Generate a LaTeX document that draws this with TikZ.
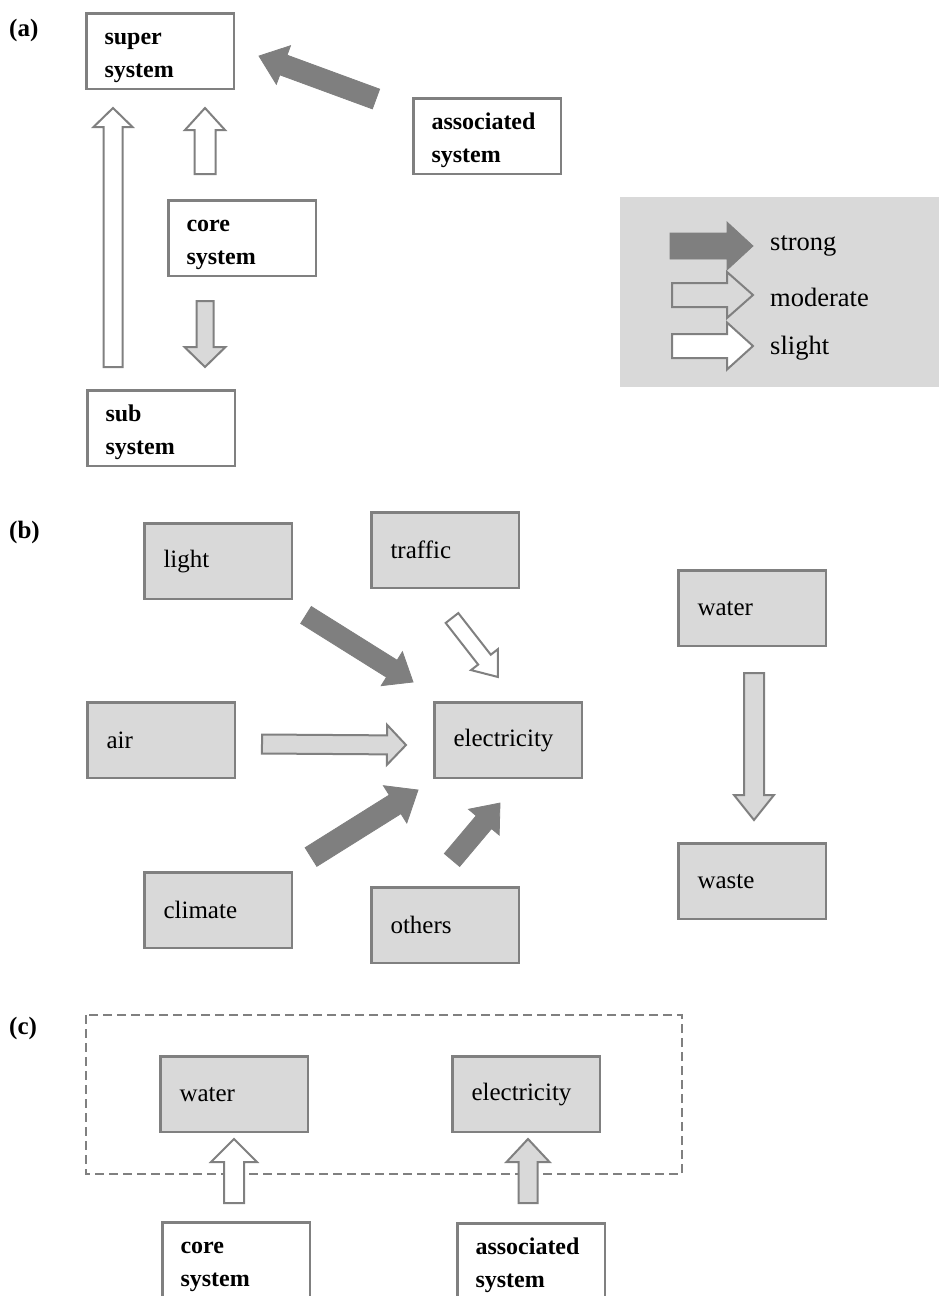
\documentclass[tikz,border=0pt]{standalone}
\usepackage{fontspec}
\setmainfont{Liberation Serif}
\usetikzlibrary{calc}

\definecolor{edgegray}{HTML}{808080}
\definecolor{boxgray}{HTML}{D9D9D9}
\definecolor{stronggray}{HTML}{7F7F7F}

\newcommand{\sysfont}{\fontsize{24}{33}\selectfont\bfseries}
\newcommand{\itemfont}{\fontsize{25}{30}\selectfont}
\newcommand{\keyfont}{\fontsize{26.5}{30}\selectfont}
\newcommand{\panelfont}{\fontsize{25}{30}\selectfont\bfseries}
% extra room above the first line of a two-line label
\newcommand{\toppad}{\rule{0pt}{25pt}}

% Block arrow from #2 (tail centre) to #3 (tip):
% #4 shaft half-width, #5 head half-width, #6 head length (all in pt)
\newcommand{\fatarrow}[6]{%
  \path[#1] let \p1=(#2), \p2=(#3),
      \n1={atan2(\y2-\y1,\x2-\x1)}, \n2={veclen(\x2-\x1,\y2-\y1)} in
    [shift={(\x1,\y1)}, rotate=\n1]
    (0pt,{-#4pt}) -- ({\n2-#6pt},{-#4pt}) -- ({\n2-#6pt},{-#5pt})
    -- ({\n2+0pt},0pt) -- ({\n2-#6pt},{#5pt}) -- ({\n2-#6pt},{#4pt})
    -- (0pt,{#4pt}) -- cycle;}

\tikzset{
  boxbase/.style={draw=edgegray, line width=2.5pt, rectangle,
    anchor=north west, xshift=1.25pt, yshift=-1.25pt,
    minimum width=147.5pt, minimum height=75.5pt, inner ysep=0pt, align=left},
  sysbox/.style={boxbase, fill=white, inner xsep=18pt, text width=111.5pt, font=\sysfont},
  itembox/.style={boxbase, fill=boxgray, inner xsep=19pt, text width=109.5pt, font=\itemfont},
  strongarrow/.style={fill=stronggray, draw=stronggray, line width=0.8pt, line join=miter},
  moderatearrow/.style={fill=boxgray, draw=edgegray, line width=2pt, line join=miter},
  slightarrow/.style={fill=white, draw=edgegray, line width=2pt, line join=miter},
  panel/.style={font=\panelfont, anchor=west, inner sep=0pt},
  legendtext/.style={font=\keyfont, anchor=west, inner sep=0pt},
}

\begin{document}
\begin{tikzpicture}[x=1pt, y=-1pt]
  \path[fill=white, use as bounding box] (0,0) rectangle (939,1296);

  % ---------------- panel (a) ----------------
  \node[panel] (pa) at (9,30) {(a)};
  \node[sysbox] (super) at (84,11) {\toppad super\\system};
  \node[sysbox] (assoc) at (411,96) {\toppad associated\\system};
  \node[sysbox] (core) at (166,198) {\toppad core\\system};
  \node[sysbox] (sub) at (85,388) {\toppad sub\\system};

  \coordinate (subT) at (113,367);   \coordinate (superL) at (113,108);
  \coordinate (coreT) at (205,174);  \coordinate (superM) at (205,108);
  \coordinate (coreB) at (205,301);  \coordinate (subM) at (205,367);
  \coordinate (assocT) at (376,99);  \coordinate (superR) at (259,56);
  \fatarrow{slightarrow}{subT}{superL}{9.5}{19.5}{19}
  \fatarrow{slightarrow}{coreT}{superM}{10.5}{20}{22}
  \fatarrow{moderatearrow}{coreB}{subM}{8.5}{20.5}{20}
  \fatarrow{strongarrow}{assocT}{superR}{10.5}{20.5}{26}

  % legend
  \node[fill=boxgray, minimum width=319pt, minimum height=190pt, anchor=north west,
        inner sep=0pt] (legend) at (620,197) {};
  \coordinate (ls1) at (670,246); \coordinate (le1) at (753,246);
  \coordinate (ls2) at (672,295); \coordinate (le2) at (753,295);
  \coordinate (ls3) at (672,346); \coordinate (le3) at (753,346);
  \fatarrow{strongarrow}{ls1}{le1}{13}{24}{26}
  \fatarrow{moderatearrow}{ls2}{le2}{12}{23}{26}
  \fatarrow{slightarrow}{ls3}{le3}{12}{23.5}{26}
  \node[legendtext] (tstrong) at (770,246) {strong};
  \node[legendtext] (tmod) at (770,297) {moderate};
  \node[legendtext] (tslight) at (770,348) {slight};

  % ---------------- panel (b) ----------------
  \node[panel] (pb) at (9,532) {(b)};
  \node[itembox] (light) at (142,521) {light};
  \node[itembox, minimum width=146.5pt] (traffic) at (369,510) {traffic};
  \node[itembox] (waterb) at (676,568) {water};
  \node[itembox] (air) at (85,700) {air};
  \node[itembox] (elec) at (432,700) {electricity};
  \node[itembox] (waste) at (676,841) {waste};
  \node[itembox] (climate) at (142,870) {climate};
  \node[itembox] (others) at (369,885) {others};

  \coordinate (lightT) at (306,615);   \coordinate (elecA) at (413,682);
  \coordinate (trafficT) at (452,618); \coordinate (elecB) at (498,677);
  \coordinate (airT) at (262,744);     \coordinate (elecC) at (406,745);
  \coordinate (climateT) at (311,857); \coordinate (elecD) at (418,790);
  \coordinate (othersT) at (452,860);  \coordinate (elecE) at (500,803);
  \coordinate (waterT) at (754,673);   \coordinate (wasteH) at (754,820);
  \fatarrow{strongarrow}{lightT}{elecA}{10}{20}{25}
  \fatarrow{slightarrow}{trafficT}{elecB}{8}{17}{22}
  \fatarrow{moderatearrow}{airT}{elecC}{9.5}{20}{19}
  \fatarrow{strongarrow}{climateT}{elecD}{11}{22}{27}
  \fatarrow{strongarrow}{othersT}{elecE}{10}{20}{25}
  \fatarrow{moderatearrow}{waterT}{wasteH}{10}{20}{25}

  % ---------------- panel (c) ----------------
  \node[panel] (pc) at (9,1028) {(c)};
  \draw[edgegray, line width=2.5pt, dash pattern=on 9pt off 5pt]
    (86,1015) rectangle (682,1174);
  \node[itembox] (waterc) at (158,1054) {water};
  \node[itembox] (elecc) at (450,1054) {electricity};
  \node[sysbox, minimum width=146.5pt] (corec) at (160,1220) {\toppad core\\system};
  \node[sysbox, minimum width=145.5pt] (assocc) at (455,1221) {\toppad associated\\system};

  \coordinate (corecT) at (234,1203);  \coordinate (watercB) at (234,1139);
  \coordinate (assoccT) at (528,1203); \coordinate (eleccB) at (528,1139);
  \fatarrow{slightarrow}{corecT}{watercB}{10}{23}{23}
  \fatarrow{moderatearrow}{assoccT}{eleccB}{9.5}{21.5}{23}
\end{tikzpicture}
\end{document}
